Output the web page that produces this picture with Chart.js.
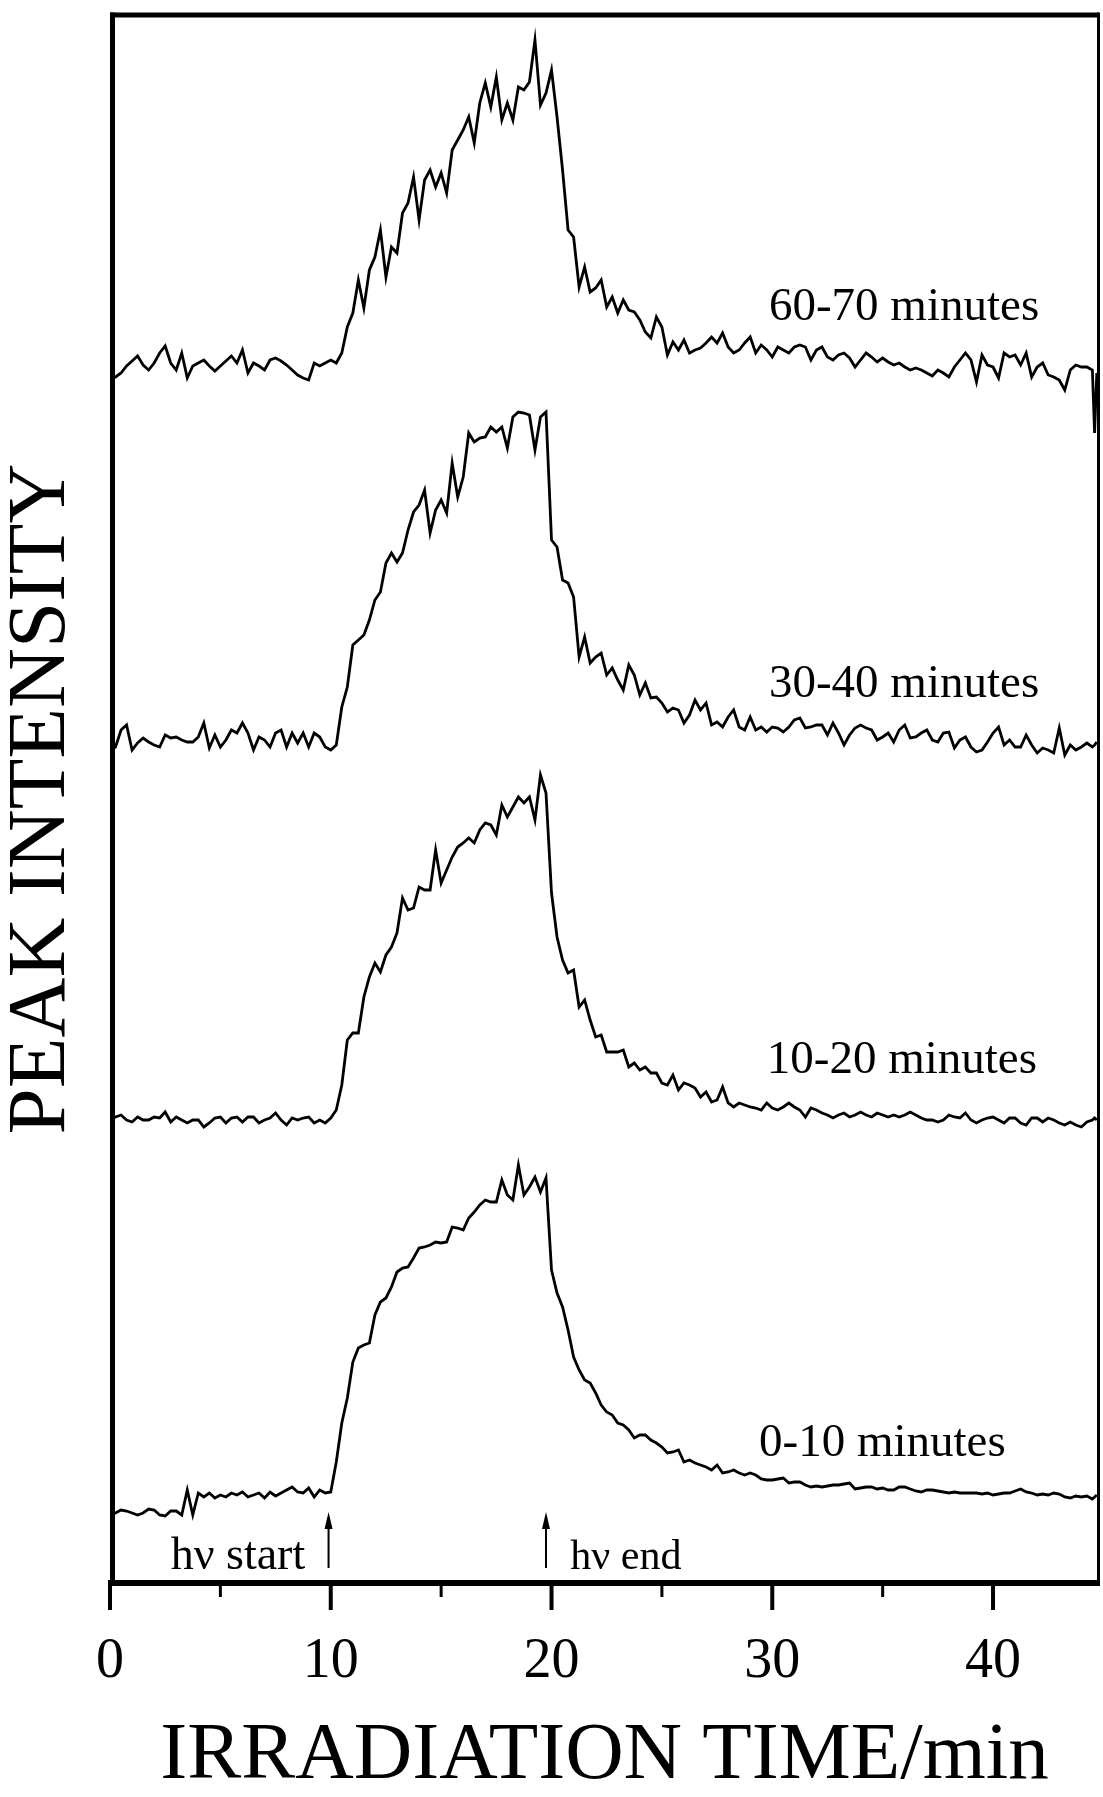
<!DOCTYPE html>
<html>
<head>
<meta charset="utf-8">
<script src="https://cdn.jsdelivr.net/npm/chart.js@4.4.1/dist/chart.umd.min.js"></script>
<style>
  html, body { margin: 0; padding: 0; background: #ffffff; }
  canvas { display: block; }
</style>
</head>
<body>
<canvas id="chart" width="1103" height="1797" style="width:1103px;height:1797px"></canvas>
<script>
// ---------------- DATA ----------------
// Sampling grid (minutes): 0 .. 44.5 every 0.25 min, plus two final samples
const times = [];
for (let i = 0; i <= 178; i++) times.push(i * 0.25);
times.push(44.6, 44.7);

// Series labels (annotation text next to each trace)
const seriesNames = ['0-10 minutes', '10-20 minutes', '30-40 minutes', '60-70 minutes'];
// Vertical offset of each stacked trace (arbitrary intensity units)
const baseOffsets = [7.0, 46.5, 84.0, 121.5];

// Peak intensity relative to each trace's own baseline
const int0_10 = [
  -0.2,0,0.3,0.2,0,-0.2,0,0.4,0.3,-0.2,-0.3,0.2,
  0.2,-0.2,2.3,-0.2,2.0,1.6,2.0,1.5,1.8,1.6,2.0,1.8,
  2.1,1.6,1.8,2.0,1.5,2.1,1.7,2.0,2.3,2.6,2.1,2.0,
  2.5,1.6,2.3,2.0,2.1,5.1,9.0,11.5,15.1,16.5,16.8,17.0,
  19.8,21.1,21.5,22.6,24.1,24.5,24.6,25.5,26.5,26.6,26.8,27.1,
  27.0,27.1,28.6,28.5,28.3,29.5,30.1,30.8,31.3,31.1,31.1,33.3,
  31.8,31.3,34.8,31.8,32.6,33.6,32.1,33.5,24.3,22.0,20.6,18.3,
  15.6,14.3,13.3,13.0,12.0,10.8,10.1,9.8,9.0,8.8,8.3,7.5,
  7.8,7.8,7.3,7.0,6.6,6.0,6.1,6.3,5.1,5.3,5.0,4.8,
  4.6,4.3,4.8,4.0,4.1,4.3,4.0,3.8,4.0,3.8,3.4,3.3,
  3.3,3.4,3.5,3.0,3.1,3.1,2.8,2.6,2.7,2.6,2.7,2.8,
  2.8,2.9,3.0,2.4,2.5,2.6,2.6,2.4,2.5,2.3,2.3,2.6,
  2.6,2.4,2.2,2.1,2.3,2.3,2.2,2.1,2.0,2.1,2.0,2.0,
  2.0,2.0,1.9,2.0,1.8,1.9,2.0,2.0,2.2,2.4,2.1,2.0,
  1.8,1.9,1.8,2.0,1.9,1.6,1.5,1.7,1.6,1.7,1.4,
  1.6,1.8
];
const int10_20 = [
  -0.2,0.1,0.3,-0.2,-0.4,0.1,-0.2,-0.2,0.1,0,0.6,-0.4,
  0.1,-0.2,-0.5,-0.2,-0.2,-0.9,-0.5,0,0.1,-0.5,0,0.1,
  -0.4,0.1,0.1,-0.5,-0.2,0,0.5,-0.2,-0.7,0,-0.2,0,
  0.1,-0.5,-0.2,-0.5,0,0.8,3.3,7.8,8.5,8.5,12.1,14.1,
  15.5,14.6,16.3,17.1,18.5,22.0,20.8,21.0,23.1,22.8,22.8,26.8,
  23.5,24.8,26.1,27.1,27.5,28.0,27.5,28.8,29.5,29.3,28.3,31.3,
  30.1,31.1,32.1,31.5,32.1,29.8,34.3,32.5,22.5,18.1,15.8,14.5,
  14.8,11.1,11.8,9.8,8.1,8.3,6.6,6.6,6.6,6.8,5.1,5.5,
  4.8,5.1,4.5,4.5,3.5,3.3,4.3,2.8,3.5,3.3,3.0,2.1,
  2.6,1.6,1.8,3.1,1.5,1.1,1.5,1.3,1.1,1.0,0.8,1.5,
  1.0,0.8,1.1,1.5,1.1,0.8,0.1,1.0,0.8,0.5,0.3,0,
  0.3,0.5,0.1,0.3,0.6,0.3,0.1,0.5,0.3,0.1,0.3,0.1,
  0.3,0.6,0.3,0,-0.2,-0.2,-0.4,-0.2,0.3,0.1,0,0.5,
  -0.2,-0.5,-0.2,0,0.1,-0.2,-0.5,0,0,-0.5,-0.7,0,
  0,-0.4,0,-0.2,-0.5,-0.7,-0.4,-0.7,-0.9,-0.4,-0.2,
  0,-0.2
];
const int30_40 = [
  -0.7,-0.4,1.3,1.8,-0.7,0,0.5,0.1,-0.2,-0.4,0.8,0.5,
  0.6,0.3,0.1,0.1,0.6,2.0,-0.5,0.8,-0.4,0.3,1.3,1.0,
  2.0,1.0,-0.7,0.6,0.3,-0.4,1.0,1.3,-0.4,1.0,0.0,1.0,
  -0.4,1.0,0.6,-0.4,-0.7,-0.2,3.6,5.6,9.8,10.3,10.8,12.3,
  14.3,15.1,18.0,19.0,18.1,19.0,21.3,23.1,23.8,25.3,21.0,23.3,
  24.3,23.0,28.0,24.6,26.6,31.0,30.1,30.5,30.6,31.6,31.1,31.6,
  29.5,32.6,33.1,33.0,32.8,29.3,32.6,33.1,20.3,19.6,16.3,16.0,
  14.6,8.6,10.6,8.0,8.6,9.0,6.8,7.5,6.3,5.3,7.8,6.8,
  4.8,6.0,4.5,4.6,4.0,3.1,3.5,3.3,2.0,2.8,4.3,3.3,
  4.0,1.8,2.1,1.6,2.6,3.3,1.6,1.3,2.6,1.3,1.6,1.1,
  1.6,1.5,1.1,1.6,2.3,2.5,1.5,1.6,1.8,1.8,0.8,2.0,
  1.0,-0.2,0.8,1.5,1.8,1.5,1.3,0.3,0.6,1.0,0.1,1.3,
  1.8,0.5,0.6,1.0,1.3,0.3,0.1,1.0,1.1,-0.5,0.3,0.6,
  -0.4,-0.9,-0.7,0.1,1.0,1.6,-0.2,0.3,-0.4,-0.4,0.8,-0.2,
  -1.0,-0.5,-0.7,-1.0,1.5,-1.2,-0.2,-0.7,-0.4,0,-0.4,
  -0.2,0.1
];
const int60_70 = [
  -0.9,-0.9,-0.5,0.2,0.7,1.2,0.3,-0.2,0.5,1.5,2.2,0.5,
  -0.2,1.5,-1.0,0.2,0.5,0.8,0.2,-0.3,0.2,0.7,1.2,0.5,
  1.8,-0.5,0.5,0.2,-0.2,0.8,1.0,0.7,0.3,-0.2,-0.7,-1.0,
  -1.2,0.5,0.2,0.5,0.8,0.5,1.5,4.1,5.5,8.8,6.0,9.8,
  11.1,13.8,9.1,12.1,11.5,15.5,16.5,19.1,14.8,18.8,19.8,18.1,
  19.5,17.5,21.8,22.8,23.8,25.1,22.5,26.5,28.5,26.1,29.1,24.8,
  26.5,24.8,28.1,27.8,28.6,32.8,26.3,27.5,29.8,25.1,19.8,13.8,
  13.1,8.1,10.1,7.6,8.0,8.8,6.1,7.1,5.5,6.8,5.8,5.6,
  4.8,3.6,3.0,5.1,4.1,1.3,2.6,1.8,2.8,1.5,1.8,2.0,
  2.5,3.1,2.5,3.5,2.1,1.5,1.8,2.5,3.1,1.5,2.3,1.8,
  1.1,2.1,1.8,1.5,2.1,2.3,2.1,0.8,1.8,2.1,1.1,0.8,
  1.3,1.5,1.0,0.1,0.8,1.5,1.1,0.6,1.0,0.6,0.3,0.5,
  0.1,-0.2,0,-0.2,-0.5,-0.8,-0.2,-0.5,-0.9,0.1,0.8,1.5,
  0.8,-1.4,1.3,0.3,0.1,-1.0,1.5,1.1,1.3,0.3,1.5,-0.9,
  0.1,0.5,-0.7,-0.9,-1.2,-2.2,-0.2,0.3,0.1,0.1,-0.2,
  -6.5,-0.5
];

// x-axis ticks
const majorTicks = [0, 10, 20, 30, 40];
const minorTicks = [5, 15, 25, 35];

// Irradiation markers
const markerTimes = [9.9, 19.75];
const markerTexts = ['h\u03bd start', 'h\u03bd end'];

// ---------------- CHART ----------------
const FONT = "'Liberation Serif', 'Times New Roman', serif";
const seriesValues = [int0_10, int10_20, int30_40, int60_70];

const datasets = seriesValues.map((vals, k) => ({
  label: seriesNames[k],
  data: times.map((t, i) => ({ x: t, y: baseOffsets[k] + vals[i] })),
  borderColor: '#000000',
  borderWidth: 2.8,
  pointRadius: 0,
  tension: 0,
  fill: false,
  borderJoinStyle: 'miter'
}));

// positions (in data coordinates) of the series annotations
const seriesLabelPos = [
  { x: 29.4, y: 12.7 },
  { x: 29.75, y: 51.0 },
  { x: 29.85, y: 88.6 },
  { x: 29.85, y: 126.3 }
];
const markerTextPos = [{ x: 2.75, y: 1.4 }, { x: 20.85, y: 1.4 }];
const markerTextSize = [46, 42];

const decorPlugin = {
  id: 'decor',
  afterDraw(chart) {
    const { ctx, chartArea: a, scales } = chart;
    const xs = scales.x, ys = scales.y;
    ctx.save();
    ctx.fillStyle = '#000';
    ctx.strokeStyle = '#000';
    // frame
    ctx.fillRect(a.left, a.top - 2.5, a.right - a.left, 5);          // top
    ctx.fillRect(a.left, a.top - 2.5, 5, a.bottom - a.top + 2.5);     // left
    ctx.fillRect(a.right - 2, a.top - 2.5, 3, a.bottom - a.top + 2.5); // right
    ctx.fillRect(a.left - 2, a.bottom - 3, a.right - a.left + 3, 6);  // bottom
    // ticks
    majorTicks.forEach(v => {
      const px = xs.getPixelForValue(v);
      ctx.fillRect(px - 2, a.bottom, 4, 27);
    });
    minorTicks.forEach(v => {
      const px = xs.getPixelForValue(v);
      ctx.fillRect(px - 1.5, a.bottom, 3, 14);
    });
    // arrows
    markerTimes.forEach(t => {
      const px = xs.getPixelForValue(t);
      const yTip = ys.getPixelForValue(7.1);
      const yTail = ys.getPixelForValue(1.5);
      ctx.lineWidth = 2;
      ctx.beginPath();
      ctx.moveTo(px, yTail);
      ctx.lineTo(px, yTip + 6);
      ctx.stroke();
      ctx.beginPath();
      ctx.moveTo(px, yTip);
      ctx.lineTo(px - 4, yTip + 17);
      ctx.lineTo(px + 4, yTip + 17);
      ctx.closePath();
      ctx.fill();
    });
    // marker texts
    ctx.textBaseline = 'alphabetic';
    ctx.textAlign = 'left';
    markerTexts.forEach((txt, k) => {
      const p = markerTextPos[k];
      ctx.font = markerTextSize[k] + 'px ' + FONT;
      ctx.fillText(txt, xs.getPixelForValue(p.x), ys.getPixelForValue(p.y));
    });
    // series labels
    ctx.font = '47px ' + FONT;
    seriesNames.forEach((name, k) => {
      const p = seriesLabelPos[k];
      ctx.fillText(name, xs.getPixelForValue(p.x), ys.getPixelForValue(p.y));
    });
    ctx.restore();
  }
};

new Chart(document.getElementById('chart'), {
  type: 'line',
  data: { datasets },
  options: {
    responsive: false,
    devicePixelRatio: 1,
    animation: false,
    events: [],
    layout: { padding: { left: 1, top: 15, right: 4, bottom: 0 } },
    plugins: { legend: { display: false }, tooltip: { enabled: false } },
    scales: {
      x: {
        type: 'linear',
        position: 'bottom',
        min: 0,
        max: 44.8,
        grid: { display: false, drawTicks: false },
        border: { display: false },
        afterFit: s => { s.height = 214; },
        ticks: {
          stepSize: 10,
          includeBounds: false,
          autoSkip: false,
          maxRotation: 0,
          padding: 51,
          color: '#000',
          font: { family: FONT, size: 56, lineHeight: 1 },
          callback: v => (v % 10 === 0 ? String(v) : '')
        },
        title: {
          display: true,
          text: 'IRRADIATION TIME/min',
          color: '#000',
          font: { family: FONT, size: 81, lineHeight: 1 },
          padding: { top: 20, bottom: 0 }
        }
      },
      y: {
        type: 'linear',
        min: 0,
        max: 156.8,
        grid: { display: false, drawTicks: false },
        border: { display: false },
        afterFit: s => { s.width = 109; },
        ticks: { display: false },
        title: {
          display: true,
          text: 'PEAK INTENSITY',
          color: '#000',
          font: { family: FONT, size: 83, lineHeight: 1 },
          padding: { top: 0, bottom: 26 }
        }
      }
    }
  },
  plugins: [decorPlugin]
});
</script>
</body>
</html>
